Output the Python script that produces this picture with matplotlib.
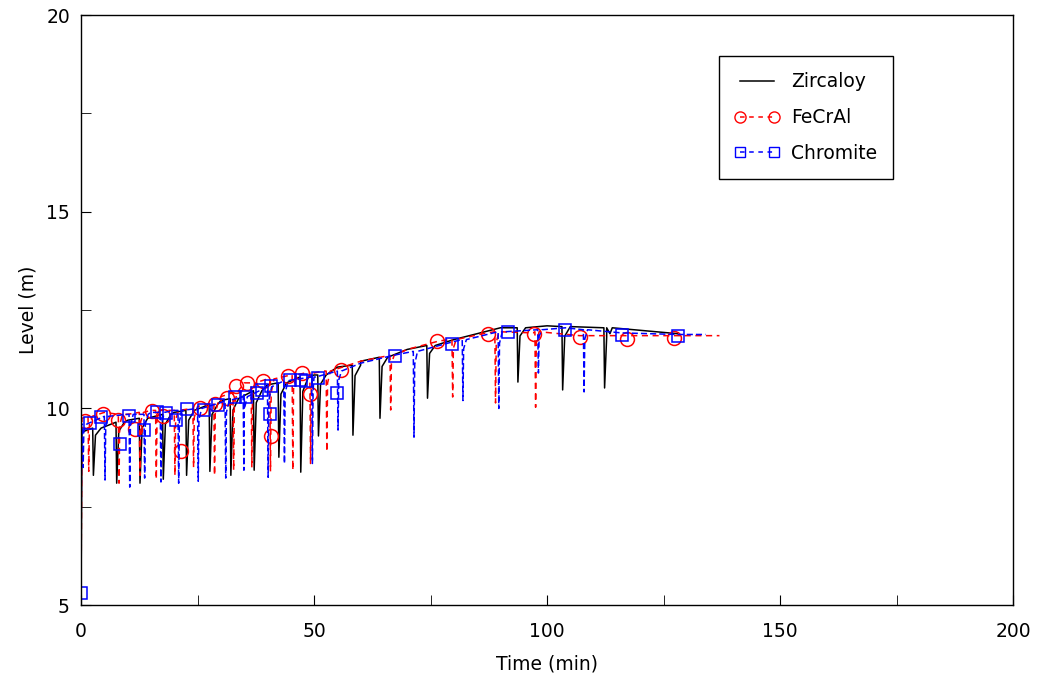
import numpy as np
import matplotlib
matplotlib.use("Agg")
from matplotlib import pyplot as plt
from matplotlib.ticker import MultipleLocator

# baseline knots (time min, level m)
zr_t = [0, 0.2, 10, 20, 30, 40, 50, 55, 60, 70, 80, 90, 100, 112.8, 113.5, 128]
zr_l = [5.3, 9.4, 9.7, 9.9, 10.2, 10.6, 10.85, 11.05, 11.2, 11.5, 11.75, 12.05, 12.1, 12.05, 11.9, 11.9]
fe_t = [0, 0.2, 5, 10, 15, 20, 25, 30, 35, 40, 45, 48, 52, 60, 70, 77, 87, 97, 107, 137]
fe_l = [5.3, 9.75, 9.9, 9.85, 9.95, 9.95, 10.05, 10.3, 10.65, 10.75, 10.85, 10.9, 10.95, 11.2, 11.5, 11.72, 11.92, 11.92, 11.85, 11.85]
cr_t = [0, 0.1, 5, 10, 15, 20, 25, 30, 35, 40, 45, 50, 55, 60, 67, 80, 91, 104, 116, 128, 134]
cr_l = [5.3, 9.6, 9.8, 9.85, 9.9, 9.95, 10.0, 10.15, 10.35, 10.55, 10.72, 10.8, 10.95, 11.15, 11.35, 11.7, 11.95, 12.05, 11.92, 11.88, 11.88]

# dips: time, level before dip, bottom of dip
zr_dip_t = [2.5, 7.5, 12.5, 17.5, 22.5, 27.5, 32.0, 37.0, 42.3, 47.0, 50.8, 58.2, 64.0, 74.2, 93.6, 103.2, 112.2]
zr_dip_top = [9.5, 9.65, 9.75, 9.85, 9.95, 10.1, 10.25, 10.45, 10.65, 10.8, 10.85, 11.1, 11.3, 11.6, 12.05, 12.08, 12.05]
zr_dip_bot = [8.3, 8.1, 8.1, 8.2, 8.3, 8.4, 8.3, 8.43, 8.76, 8.38, 9.3, 9.32, 9.75, 10.26, 10.67, 10.47, 10.52]
fe_dip_t = [1.5, 8.0, 12.5, 16.0, 20.0, 24.0, 28.5, 32.6, 36.5, 40.5, 45.3, 49.1, 52.6, 66.3, 79.6, 88.8, 97.4]
fe_dip_top = [9.8, 9.85, 9.9, 9.95, 9.95, 10.0, 10.15, 10.4, 10.65, 10.75, 10.85, 10.9, 10.95, 11.35, 11.75, 11.95, 11.95]
fe_dip_bot = [8.4, 8.1, 8.3, 8.2, 8.3, 8.5, 8.3, 8.43, 8.5, 8.4, 8.43, 8.6, 8.9, 9.96, 10.29, 10.14, 10.03]
cr_dip_t = [0.3, 5.0, 10.3, 13.5, 17.0, 20.8, 25.0, 30.9, 34.8, 40.0, 43.5, 49.5, 55.0, 71.3, 81.8, 89.5, 98.0, 107.8]
cr_dip_top = [9.6, 9.8, 9.85, 9.85, 9.9, 9.95, 10.0, 10.2, 10.3, 10.55, 10.7, 10.8, 10.95, 11.45, 11.75, 11.95, 12.0, 12.0]
cr_dip_bot = [8.5, 8.18, 8.0, 8.23, 8.13, 8.1, 8.15, 8.23, 8.43, 8.25, 8.6, 8.6, 9.45, 9.27, 10.2, 10.0, 10.9, 10.42]

# marker positions
fe_mk_t = [0.9, 4.7, 7.9, 11.6, 15.2, 17.6, 21.5, 25.5, 28.8, 31.3, 33.3, 35.6, 39.1, 40.8, 44.4, 47.4, 49.1, 55.8, 76.4, 87.3, 97.2, 107.1, 117.2, 127.3]
fe_mk_l = [9.68, 9.86, 9.7, 9.47, 9.93, 9.8, 8.92, 10.0, 10.11, 10.26, 10.57, 10.64, 10.7, 9.3, 10.82, 10.9, 10.36, 10.98, 11.71, 11.89, 11.89, 11.81, 11.76, 11.79]
cr_mk_t = [0, 1.9, 4.3, 8.4, 10.3, 13.5, 16.3, 18.2, 20.4, 22.7, 26.4, 29.4, 33.0, 35.4, 37.8, 38.8, 40.6, 40.8, 44.8, 47.2, 48.3, 50.9, 55.0, 67.4, 79.6, 91.6, 103.9, 116.1, 128.1]
cr_mk_l = [5.3, 9.63, 9.78, 9.09, 9.8, 9.45, 9.9, 9.88, 9.7, 9.98, 9.96, 10.08, 10.29, 10.29, 10.39, 10.47, 9.86, 10.57, 10.72, 10.72, 10.7, 10.77, 10.39, 11.33, 11.64, 11.94, 12.0, 11.87, 11.84]


def build(bt, bl, dt, dtop, dbot, w):
    pts = list(zip(bt, bl))
    for t, a, b in zip(dt, dtop, dbot):
        pts += [(t, a), (t + 0.15, b), (t + w, a - 0.15 * (a - b)), (t + 3 * w, a)]
    pts.sort()
    return np.array(pts).T


fig = plt.figure(figsize=(10.39, 6.83), dpi=100)
ax = fig.add_axes([0.078, 0.114, 0.897, 0.864])

x, y = build(zr_t, zr_l, zr_dip_t, zr_dip_top, zr_dip_bot, 0.6)
ax.plot(x, y, color="black", lw=1.1)
x, y = build(fe_t, fe_l, fe_dip_t, fe_dip_top, fe_dip_bot, 0.3)
ax.plot(x, y, color="red", lw=1.1, ls=(0, (4, 3)))
ax.plot(fe_mk_t, fe_mk_l, ls="none", marker="o", ms=10, mfc="none", mec="red", mew=1.1)
x, y = build(cr_t, cr_l, cr_dip_t, cr_dip_top, cr_dip_bot, 0.3)
ax.plot(x, y, color="blue", lw=1.1, ls=(0, (4, 2)))
ax.plot(cr_mk_t, cr_mk_l, ls="none", marker="s", ms=8, mfc="none", mec="blue", mew=1.1)

# legend proxies
h1, = ax.plot([], [], color="black", lw=1.1)
h2, = ax.plot([], [], color="red", lw=1.1, ls=(0, (3, 3)), marker="o", ms=8, mfc="none")
h3, = ax.plot([], [], color="blue", lw=1.1, ls=(0, (3, 3)), marker="s", ms=7, mfc="none")
leg = ax.legend([h1, h2, h3], ["Zircaloy", "FeCrAl", "Chromite"], loc="upper left",
                bbox_to_anchor=(0.684, 0.93), fontsize=13.5, fancybox=False,
                edgecolor="black", framealpha=1, handlelength=2.4, borderpad=0.85,
                labelspacing=0.9, numpoints=2, handletextpad=0.6, borderaxespad=0)
leg.get_frame().set_linewidth(1.0)

ax.set_xlim(0, 200)
ax.set_ylim(5, 20)
ax.xaxis.set_major_locator(MultipleLocator(50))
ax.xaxis.set_minor_locator(MultipleLocator(25))
ax.yaxis.set_major_locator(MultipleLocator(5))
ax.yaxis.set_minor_locator(MultipleLocator(2.5))
ax.tick_params(which="both", direction="in", labelsize=13.5, color="black")
ax.tick_params(which="both", length=7)
ax.tick_params(axis="x", which="both", pad=12)
ax.tick_params(axis="y", which="both", pad=8)
ax.set_xlabel("Time (min)", fontsize=13.5, labelpad=10)
ax.set_ylabel("Level (m)", fontsize=13.5, labelpad=6)
for s in ax.spines.values():
    s.set_linewidth(1.0)

fig.savefig("out.png", dpi=100)
